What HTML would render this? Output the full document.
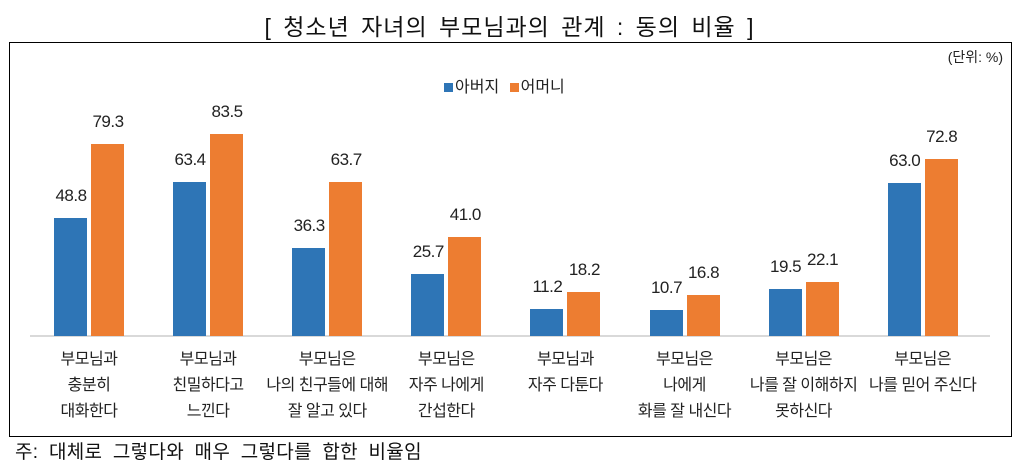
<!DOCTYPE html>
<html><head><meta charset="utf-8"><style>
body{margin:0;width:1019px;height:467px;background:#fff;font-family:"Liberation Sans","Noto Sans CJK KR",sans-serif;position:relative;overflow:hidden}
.t{position:absolute;white-space:nowrap}
.box{position:absolute;left:9px;top:42px;width:1003px;height:395px;border:1px solid #000;box-sizing:border-box}
.bar{position:absolute;width:33px}
.b{background:#2e75b6}.o{background:#ed7d31}
.v{position:absolute;width:60px;text-align:center;font-size:17px;color:#222;letter-spacing:-0.5px}
.lab{position:absolute;width:140px;text-align:center;font-size:16px;line-height:26px;color:#222;letter-spacing:-0.5px}
</style></head><body>
<div class="t" style="left:0;width:1019px;text-align:center;top:8px;font-size:23px;color:#111;letter-spacing:1px;word-spacing:4px">[ 청소년 자녀의 부모님과의 관계 : 동의 비율 ]</div>
<div class="box"></div>
<div class="t" style="right:16px;top:47px;font-size:14px;color:#222">(단위: %)</div>
<div class="t" style="left:444px;top:73px;font-size:16px;color:#222"><span style="display:inline-block;width:9px;height:9px;background:#2e75b6;margin-right:2px"></span>아버지 <span style="display:inline-block;width:9px;height:9px;background:#ed7d31;margin:0 2px 0 6px"></span>어머니</div>
<div style="position:absolute;left:30px;top:335px;width:960px;height:2px;background:#d9d9d9"></div>
<div id="c"></div>
<div class="t" style="left:15px;top:437px;font-size:19px;color:#111;word-spacing:5px;letter-spacing:0.3px">주: 대체로 그렇다와 매우 그렇다를 합한 비율임</div>
<script>
var d=[[48.8,79.3,["부모님과","충분히","대화한다"]],[63.4,83.5,["부모님과","친밀하다고","느낀다"]],[36.3,63.7,["부모님은","나의 친구들에 대해","잘 알고 있다"]],[25.7,41.0,["부모님은","자주 나에게","간섭한다"]],[11.2,18.2,["부모님과","자주 다툰다"]],[10.7,16.8,["부모님은","나에게","화를 잘 내신다"]],[19.5,22.1,["부모님은","나를 잘 이해하지","못하신다"]],[63.0,72.8,["부모님은","나를 믿어 주신다"]]];
var h="",base=336,k=2.425;
d.forEach(function(g,i){var x=54+i*119.1;
[[g[0],x,"b"],[g[1],x+37,"o"]].forEach(function(s){var hh=s[0]*k;
h+='<div class="bar '+s[2]+'" style="left:'+s[1]+'px;top:'+(base-hh)+'px;height:'+hh+'px"></div>';
h+='<div class="v" style="left:'+(s[1]-13)+'px;top:'+(base-hh-32)+'px">'+s[0].toFixed(1)+'</div>';});
h+='<div class="lab" style="left:'+(x+35-70)+'px;top:347px">'+g[2].join("<br>")+'</div>';});
document.getElementById("c").innerHTML=h;
</script>
</body></html>
